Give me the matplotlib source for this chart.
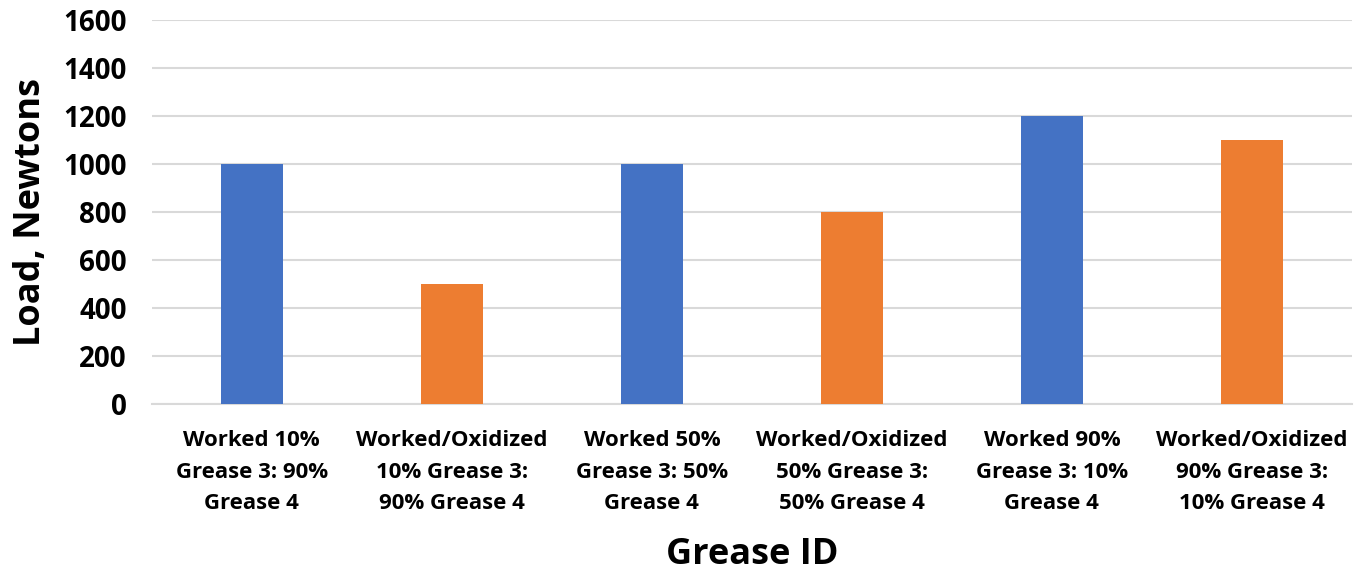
import matplotlib
matplotlib.use("Agg")
import matplotlib.pyplot as plt

categories = [
    "Worked 10%\nGrease 3: 90%\nGrease 4",
    "Worked/Oxidized\n10% Grease 3:\n90% Grease 4",
    "Worked 50%\nGrease 3: 50%\nGrease 4",
    "Worked/Oxidized\n50% Grease 3:\n50% Grease 4",
    "Worked 90%\nGrease 3: 10%\nGrease 4",
    "Worked/Oxidized\n90% Grease 3:\n10% Grease 4",
]
loads = [1000, 500, 1000, 800, 1200, 1100]
y_ticks = [0, 200, 400, 600, 800, 1000, 1200, 1400, 1600]

BLUE = "#4472C4"
ORANGE = "#ED7D31"
bar_colors = [BLUE, ORANGE] * 3

plt.rcParams["font.family"] = ["Open Sans", "DejaVu Sans"]
plt.rcParams["font.weight"] = "bold"

fig = plt.figure(figsize=(13.67, 5.73), dpi=100)
ax = fig.add_axes([0.111, 0.295, 0.878, 0.67])

x = list(range(len(categories)))
ax.bar(x, loads, width=0.31, color=bar_colors, zorder=3)

ax.set_xlim(-0.5, len(categories) - 0.5)
ax.set_ylim(0, 1600)
ax.set_yticks(y_ticks)
ax.set_yticklabels([str(t) for t in y_ticks], fontsize=20, fontweight="bold")
ax.set_xticks(x)
ax.set_xticklabels(categories, fontsize=16, fontweight="bold", linespacing=1.65)

ax.grid(axis="y", color="#D9D9D9", linewidth=1.5, zorder=0)
for side in ["top", "right", "left"]:
    ax.spines[side].set_visible(False)
ax.spines["bottom"].set_color("#D9D9D9")
ax.spines["bottom"].set_linewidth(1.5)
ax.tick_params(axis="both", length=0)
ax.tick_params(axis="y", pad=18)
ax.tick_params(axis="x", pad=19)

ax.set_ylabel("Load, Newtons", fontsize=26, fontweight="bold", labelpad=10)
fig.text(0.55, 0.032, "Grease ID", fontsize=26, fontweight="bold",
         ha="center", va="center")

fig.savefig("out.png", dpi=100, facecolor="white")
